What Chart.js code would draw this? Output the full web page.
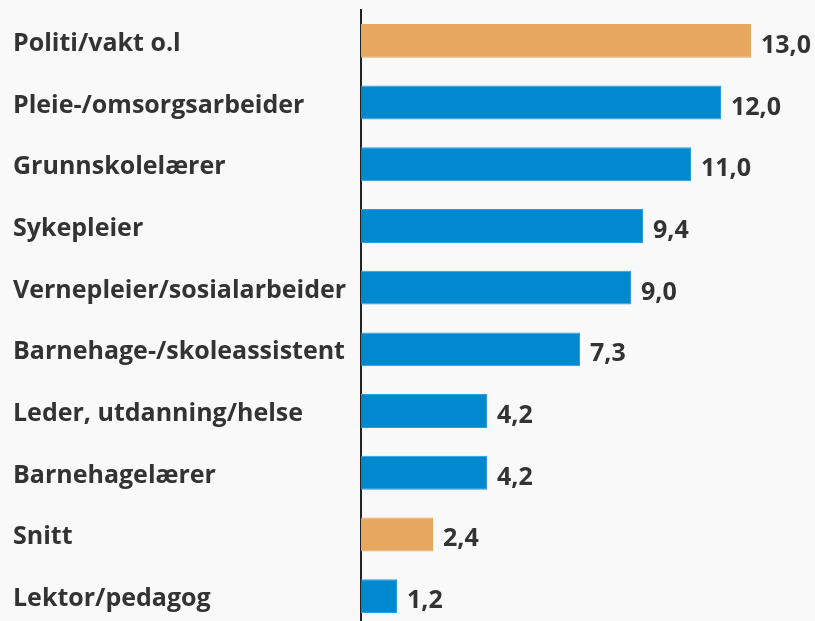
<!DOCTYPE html>
<html>
<head>
<meta charset="utf-8">
<script src="https://cdn.jsdelivr.net/npm/chart.js@4"></script>
<style>
  html, body { margin: 0; background: #f9f9f9; overflow: hidden; }
  canvas { display: block; }
</style>
</head>
<body>
<canvas id="myChart" width="815" height="627"></canvas>
<script>
const categories = ['Politi/vakt o.l', 'Pleie-/omsorgsarbeider', 'Grunnskolelærer', 'Sykepleier',
    'Vernepleier/sosialarbeider', 'Barnehage-/skoleassistent', 'Leder, utdanning/helse',
    'Barnehagelærer', 'Snitt', 'Lektor/pedagog'];
const values = [13.0, 12.0, 11.0, 9.4, 9.0, 7.3, 4.2, 4.2, 2.4, 1.2];
const highlighted = ['Politi/vakt o.l', 'Snitt'];

const orange = '#e8a75e';
const blue = '#0089cf';
const textColor = '#333333';
const fontFamily = '"Open Sans", "Noto Sans", sans-serif';

// category names on the left and values after each bar (comma as decimal sign)
const textLabels = {
    id: 'textLabels',
    afterDatasetsDraw(chart) {
        const ctx = chart.ctx;
        const meta = chart.getDatasetMeta(0);
        ctx.save();
        ctx.font = 'bold 25px ' + fontFamily;
        ctx.fillStyle = textColor;
        ctx.textAlign = 'left';
        ctx.textBaseline = 'alphabetic';
        meta.data.forEach((bar, i) => {
            ctx.fillText(categories[i], 13, bar.y + 10);
            const txt = values[i].toFixed(1).replace('.', ',');
            ctx.fillText(txt, bar.x + 10, bar.y + 12);
        });
        ctx.restore();
    }
};

const ctx = document.getElementById('myChart');
new Chart(ctx, {
    type: 'bar',
    data: {
        labels: categories,
        datasets: [{
            data: values,
            backgroundColor: categories.map(c => highlighted.includes(c) ? orange : blue),
            borderColor: categories.map(c => highlighted.includes(c) ? orange : '#2a9fe0'),
            borderWidth: 1,
            borderSkipped: 'left',
            barPercentage: 0.55,
            categoryPercentage: 1
        }]
    },
    options: {
        indexAxis: 'y',
        responsive: false,
        animation: false,
        layout: {
            padding: { left: 13, right: 4, top: 10, bottom: 0 }
        },
        scales: {
            x: {
                display: false,
                min: 0,
                max: 15
            },
            y: {
                grid: { display: false },
                border: { display: true, color: '#222222', width: 2 },
                ticks: { display: false },
                afterFit(scale) {
                    scale.width = 361 - 13;
                }
            }
        },
        plugins: {
            legend: { display: false },
            tooltip: { enabled: false }
        }
    },
    plugins: [textLabels]
});
</script>
</body>
</html>
